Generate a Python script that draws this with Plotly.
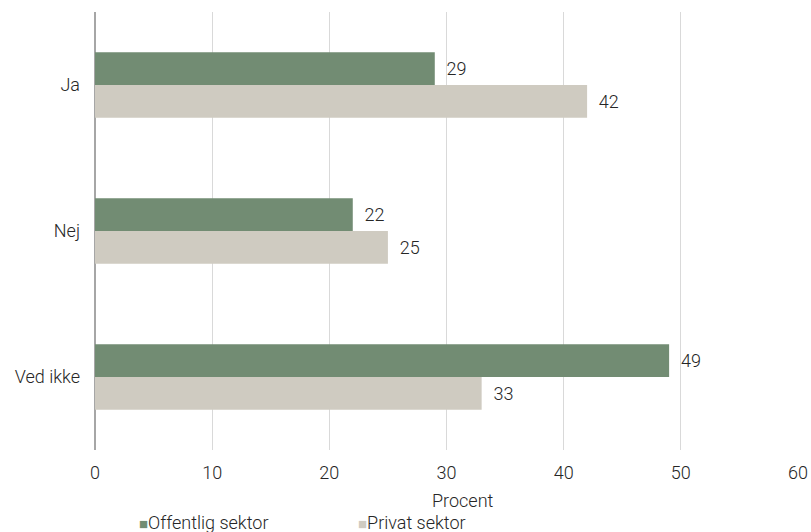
import plotly.graph_objects as go

categories = ["Ja", "Nej", "Ved ikke"]
offentlig = [29, 22, 49]
privat = [42, 25, 33]
series_names = ["Offentlig sektor", "Privat sektor"]
x_ticks = [0, 10, 20, 30, 40, 50, 60]
axis_title = "Procent"

GREEN = "#728c73"
BEIGE = "#cfcbc1"
TXT = "#262626"
FONT = "Roboto"
FS = 18
FW = 300

L, R, T, B, W, H = 95, 13, 12, 82, 811, 532
PW, PH = W - L - R, H - T - B

fig = go.Figure()
colors = [GREEN, BEIGE]
for name, vals, col in zip(series_names, [offentlig, privat], colors):
    fig.add_trace(go.Bar(
        y=categories, x=vals, name=name, orientation="h",
        marker=dict(color=col, line=dict(width=0)),
        text=vals, texttemplate="  %{x}", textposition="outside",
        textfont=dict(family=FONT, size=FS, color=TXT, weight=FW),
        cliponaxis=False, showlegend=False,
    ))

# axis title
fig.add_annotation(
    xref="paper", yref="paper", x=(463 - L) / PW, y=-(500 - (H - B)) / PH,
    xanchor="center", yanchor="middle", showarrow=False, text=axis_title,
    font=dict(family=FONT, size=FS, color=TXT, weight=FW),
)

# legend drawn as text entries with coloured squares
legend_x = [137, 356]
for name, col, lx in zip(series_names, colors, legend_x):
    fig.add_annotation(
        xref="paper", yref="paper",
        x=(lx - L) / PW, y=-(522 - (H - B)) / PH,
        xanchor="left", yanchor="middle", showarrow=False,
        text=f"<span style='color:{col};font-size:15px'>■</span>{name}",
        font=dict(family=FONT, size=FS, color=TXT, weight=FW),
    )

fig.update_layout(
    width=W, height=H,
    margin=dict(l=L, r=R, t=T, b=B, autoexpand=False),
    paper_bgcolor="white", plot_bgcolor="white",
    barmode="group", bargap=0.55, bargroupgap=0,
    font=dict(family=FONT, size=FS, color=TXT, weight=FW),
    showlegend=False,
)
fig.update_xaxes(
    range=[0, 60], tickvals=x_ticks, ticktext=[str(v) for v in x_ticks],
    showgrid=True, gridcolor="#d9d9d9", gridwidth=1,
    zeroline=True, zerolinecolor="#a6a6a6", zerolinewidth=2,
    showline=False, ticks="", ticklabelstandoff=10,
    tickfont=dict(family=FONT, size=FS, color=TXT, weight=FW),
    automargin=False,
)
fig.update_yaxes(
    autorange="reversed", showgrid=False, zeroline=False, showline=False,
    ticks="", ticklabelstandoff=14,
    tickfont=dict(family=FONT, size=FS, color=TXT, weight=FW),
    automargin=False,
)

fig.write_html("out.html")
